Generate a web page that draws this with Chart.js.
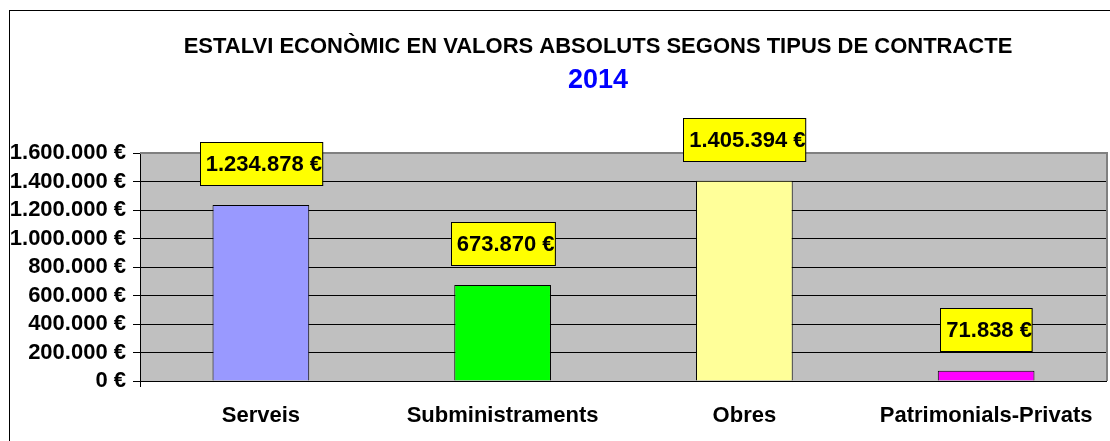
<!DOCTYPE html>
<html>
<head>
<meta charset="utf-8">
<script src="https://cdn.jsdelivr.net/npm/chart.js@4"></script>
<style>
  html, body { margin: 0; padding: 0; background: #fff; }
  #wrap { width: 1110px; height: 441px; }
</style>
</head>
<body>
<div id="wrap"><canvas id="mycanvas" width="1110" height="441"></canvas></div>
<script>
// estalvi per tipus de contracte (2014)
var categories = ['Serveis', 'Subministraments', 'Obres', 'Patrimonials-Privats'];
var savings = [1234878, 673870, 1405394, 71838];
var yTicks = { min: 0, max: 1600000, step: 200000 };

var barColors = ['#9999FF', '#00FF00', '#FFFF99', '#FF00FF'];
var FONT = '"Liberation Sans", Arial, sans-serif';

function euros(v) {
  var s = Math.round(v).toString();
  return s.replace(/\B(?=(\d{3})+(?!\d))/g, '.') + ' €';
}

var decorations = {
  id: 'decorations',
  beforeDraw: function(chart) {
    var ctx = chart.ctx, a = chart.chartArea;
    ctx.save();
    ctx.fillStyle = '#fff';
    ctx.fillRect(0, 0, chart.width, chart.height);
    ctx.strokeStyle = '#000';
    ctx.lineWidth = 1;
    ctx.strokeRect(9.5, 10.5, chart.width + 20, chart.height + 20);
    ctx.fillStyle = '#C0C0C0';
    ctx.fillRect(a.left, a.top, a.right - a.left, a.bottom - a.top);
    ctx.restore();
  },
  beforeDatasetsDraw: function(chart) {
    var ctx = chart.ctx, a = chart.chartArea;
    ctx.save();
    // plot frame top/right in grey
    ctx.strokeStyle = '#808080';
    ctx.lineWidth = 2;
    ctx.beginPath();
    ctx.moveTo(a.left, a.top);
    ctx.lineTo(a.right, a.top);
    ctx.lineTo(a.right, a.bottom);
    ctx.stroke();
    // small tick below the value axis
    ctx.strokeStyle = '#000';
    ctx.lineWidth = 1;
    ctx.beginPath();
    ctx.moveTo(Math.round(a.left) + 0.5, a.bottom);
    ctx.lineTo(Math.round(a.left) + 0.5, a.bottom + 6);
    ctx.stroke();
    ctx.restore();
  },
  afterDatasetsDraw: function(chart) {
    // yellow value boxes above every bar
    var ctx = chart.ctx;
    var meta = chart.getDatasetMeta(0);
    ctx.save();
    ctx.font = 'bold 22px ' + FONT;
    ctx.textAlign = 'center';
    ctx.textBaseline = 'middle';
    meta.data.forEach(function(bar, i) {
      var txt = euros(savings[i]);
      var w = ctx.measureText(txt).width + 6;
      var h = 43;
      var x = Math.round(bar.x - w / 2) + 0.5;
      var y = Math.round(bar.y - 20 - h) + 0.5;
      ctx.fillStyle = '#FFFF00';
      ctx.fillRect(x, y, w, h);
      ctx.strokeStyle = '#000';
      ctx.lineWidth = 1;
      ctx.strokeRect(x, y, w, h);
      ctx.fillStyle = '#000';
      ctx.fillText(txt, bar.x + 3, y + h / 2 + 1);
    });
    ctx.restore();
  },
  afterDraw: function(chart) {
    var ctx = chart.ctx;
    ctx.save();
    ctx.textAlign = 'center';
    ctx.textBaseline = 'middle';
    ctx.fillStyle = '#000';
    ctx.font = 'bold 22px ' + FONT;
    ctx.fillText('ESTALVI ECONÒMIC EN VALORS ABSOLUTS SEGONS TIPUS DE CONTRACTE', 598, 47);
    ctx.fillStyle = '#0000FF';
    ctx.font = 'bold 27px ' + FONT;
    ctx.fillText('2014', 598, 81);
    ctx.restore();
  }
};

var ctx = document.getElementById('mycanvas');

var myChart = new Chart(ctx, {
  type: 'bar',
  data: {
    labels: categories,
    datasets: [{
      data: savings,
      backgroundColor: barColors,
      borderColor: '#000',
      borderWidth: 1,
      categoryPercentage: 1.0,
      barPercentage: 0.4
    }]
  },
  options: {
    responsive: false,
    animation: false,
    layout: {
      autoPadding: false,
      padding: { top: 153, right: 3, left: 0, bottom: 0 }
    },
    plugins: {
      legend: { display: false },
      title: { display: false },
      tooltip: { enabled: false }
    },
    scales: {
      x: {
        // grid hidden, tick length only used to push the labels down
        grid: { display: false, drawTicks: true, tickLength: 20 },
        border: { display: false },
        ticks: {
          color: '#000',
          padding: 2,
          maxRotation: 0,
          autoSkip: false,
          font: { family: FONT, size: 22, weight: 'bold' }
        },
        afterFit: function(scale) { scale.height = 60; }
      },
      y: {
        min: yTicks.min,
        max: yTicks.max,
        grid: { color: '#000', lineWidth: 1, tickLength: 7, tickColor: '#000' },
        border: { display: true, color: '#000', width: 1 },
        ticks: {
          stepSize: yTicks.step,
          autoSkip: false,
          color: '#000',
          padding: 7,
          font: { family: FONT, size: 22, weight: 'bold', lineHeight: 1 },
          callback: function(v) { return euros(v); }
        },
        afterFit: function(scale) { scale.width = 140; }
      }
    }
  },
  plugins: [decorations]
});
</script>
</body>
</html>
